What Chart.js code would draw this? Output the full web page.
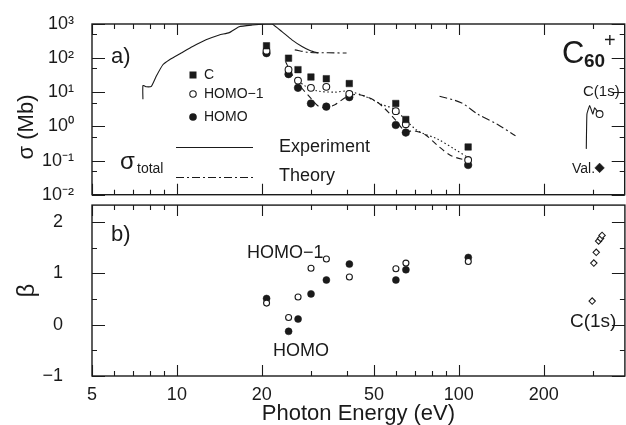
<!DOCTYPE html>
<html>
<head>
<meta charset="utf-8">
<script src="https://cdn.jsdelivr.net/npm/chart.js@4.4.0/dist/chart.umd.min.js"></script>
<style>
  html, body { margin: 0; padding: 0; background: #fff; overflow: hidden; }
  #wrap { position: relative; width: 626px; height: 425px; overflow: hidden; }
  canvas { position: absolute; left: 0; }
  #top { top: 0; }
  #bottom { top: 200px; }
</style>
</head>
<body>
<div id="wrap">
  <canvas id="top" width="630" height="200"></canvas>
  <canvas id="bottom" width="630" height="225"></canvas>
</div>
<script>
const FONT = "'Liberation Sans', Arial, sans-serif";
const INK = '#1a1a1a';

// shared photon energy axis (eV)
const energyMin = 5;
const energyMax = 388;
const energyTicks = [5, 10, 20, 50, 100, 200];
const energyMinorTicks = [6, 7, 8, 9, 30, 40, 60, 70, 80, 90, 300];

const sigmaTicks = [0.01, 0.1, 1, 10, 100, 1000];
const sigmaTickLabels = ['10⁻²', '10⁻¹', '10⁰', '10¹', '10²', '10³'];
const sigmaMinorTicks = [0.05, 0.5, 5, 50, 500];

const betaTicks = [-1, 0, 1, 2];
const betaTickLabels = ['−1', '0', '1', '2'];
const betaMinorTicks = [-0.5, 0.5, 1.5];

// valence partial cross sections (Mb) and beta
const energies = [20.8, 24.9, 26.9, 29.9, 33.9, 40.9, 59.8, 64.9, 108];
const sigmaC = [230, 100, 46, 28, 25, 18, 4.7, 1.6, 0.25];
const sigmaHomo1 = [166, 46, 22, 13.5, 14.4, 9.0, 2.8, 1.16, 0.104];
const sigmaHomo = [140, 34, 13.5, 4.7, 3.8, 7.2, 1.1, 0.66, 0.074];
const betaHomo1 = [0.42, 0.14, 0.54, 1.10, 1.28, 0.93, 1.09, 1.20, 1.23];
const betaHomo = [0.51, -0.13, 0.11, 0.60, 0.87, 1.18, 0.87, 1.07, 1.31];

// total cross section, experiment
const expEnergy = [7.58, 7.58, 7.8, 8.12, 8.45, 8.92, 9.42, 10.36, 11.38, 12.69, 14.14, 15.34, 16.63, 18.53, 20.65, 21.78, 23.6, 25.6, 27.8, 29.8, 31.8];
const expSigma = [6.2, 15.8, 14.5, 15, 29.4, 64, 90, 141, 219, 343, 479, 559, 835, 935, 1000, 1000, 597, 343, 219, 164, 141];

// total cross section, theory (two pieces)
const theoryEnergyLow = [26.2, 29.4, 34.5, 40.0];
const theorySigmaLow = [175, 148, 144, 141];
const theoryEnergyHigh = [85.5, 102, 117, 137, 159];
const theorySigmaHigh = [7.7, 4.95, 2.26, 1.16, 0.53];

// partial theory curves
const homoCalcEnergy = [24.3, 25.6, 27.4, 29.8, 31.8, 33.8, 36.5, 39.5, 42.9, 46.5, 51.8, 59.4, 64.4, 69.8, 75.7, 84.4, 94.0, 107.6];
const homoCalcSigma = [80, 32.9, 15, 6.9, 3.9, 3.54, 4.4, 6.9, 8.6, 7.7, 4.95, 1.62, 0.74, 0.74, 0.59, 0.27, 0.139, 0.099];
const homo1CalcEnergy = [26.3, 28.6, 31.8, 36.5, 40.6, 47.8, 53.3, 59.4, 64.4, 71.7, 84.4, 96.6, 107.6];
const homo1CalcSigma = [26.4, 15, 10.8, 10.1, 10.8, 6.9, 4.4, 3.16, 1.62, 0.74, 0.42, 0.217, 0.125];

// C(1s) region
const c1sExpEnergy = [283.5, 285, 291.5, 299, 303.5, 313];
const c1sExpSigma = [0.22, 2.3, 4.1, 2.3, 3.5, 2.5];
const c1sEnergy = [316];
const c1sSigma = [2.3];
const valEnergy = [316];
const valSigma = [0.061];
const c1sBetaEnergy = [297, 301, 307, 313, 318, 322];
const c1sBeta = [0.46, 1.2, 1.41, 1.63, 1.68, 1.74];

const pts = (xs, ys) => xs.map((x, i) => ({ x, y: ys[i] }));

const lineSet = (xs, ys, dash, tension) => ({
  data: pts(xs, ys),
  showLine: true,
  pointRadius: 0,
  borderColor: INK,
  borderWidth: 1.1,
  borderDash: dash,
  tension: tension,
  fill: false
});

const markSet = (xs, ys, style, radius, filled) => ({
  data: pts(xs, ys),
  showLine: false,
  pointStyle: style,
  pointRadius: radius,
  pointBackgroundColor: filled ? INK : '#fff',
  pointBorderColor: INK,
  pointBorderWidth: filled ? 0.5 : 1.1
});

function framePlugin(yMajor, yMinor) {
  return {
    id: 'frame',
    afterDatasetsDraw(chart) {
      const { ctx, chartArea: a, scales: { x, y } } = chart;
      ctx.save();
      ctx.strokeStyle = INK;
      ctx.lineWidth = 1.4;
      ctx.strokeRect(a.left, a.top, a.right - a.left, a.bottom - a.top);
      ctx.lineWidth = 1.1;
      ctx.beginPath();
      const xt = (list, len) => list.forEach(v => {
        const px = Math.round(x.getPixelForValue(v)) + 0.5;
        ctx.moveTo(px, a.top); ctx.lineTo(px, a.top + len);
        ctx.moveTo(px, a.bottom); ctx.lineTo(px, a.bottom - len);
      });
      const yt = (list, len) => list.forEach(v => {
        const py = Math.round(y.getPixelForValue(v)) + 0.5;
        ctx.moveTo(a.left, py); ctx.lineTo(a.left + len, py);
        ctx.moveTo(a.right, py); ctx.lineTo(a.right - len, py);
      });
      xt(energyTicks, 11);
      xt(energyMinorTicks, 5);
      yt(yMajor, 13);
      yt(yMinor, 5);
      ctx.stroke();
      ctx.restore();
    }
  };
}

function text(ctx, s, x, y, size, opts) {
  opts = opts || {};
  ctx.font = (opts.bold ? 'bold ' : '') + size + 'px ' + FONT;
  ctx.textAlign = opts.align || 'left';
  ctx.textBaseline = opts.baseline || 'middle';
  ctx.fillText(s, x, y);
}

const topLabels = {
  id: 'topLabels',
  afterDraw(chart) {
    const ctx = chart.ctx;
    ctx.save();
    ctx.fillStyle = INK;
    ctx.strokeStyle = INK;

    // axis title sits low in the reference, so it is drawn here
    ctx.save();
    ctx.translate(27, 127);
    ctx.rotate(-Math.PI / 2);
    text(ctx, 'σ (Mb)', 0, 0, 22, { align: 'center' });
    ctx.restore();

    text(ctx, 'a)', 111, 57, 22);

    // symbol key
    ctx.fillRect(189.5, 71.5, 7, 7);
    text(ctx, 'C', 204, 75, 14);
    ctx.lineWidth = 1.1;
    ctx.beginPath(); ctx.arc(193, 94, 3.2, 0, Math.PI * 2); ctx.stroke();
    text(ctx, 'HOMO−1', 204, 94, 14);
    ctx.beginPath(); ctx.arc(193, 117, 3.8, 0, Math.PI * 2); ctx.fill();
    text(ctx, 'HOMO', 204, 117, 14);

    // sigma total key
    text(ctx, 'σ', 120, 162, 24);
    text(ctx, 'total', 137, 169, 14);
    ctx.lineWidth = 1.1;
    ctx.beginPath(); ctx.moveTo(176, 147.5); ctx.lineTo(253, 147.5); ctx.stroke();
    text(ctx, 'Experiment', 279, 147, 18);
    ctx.setLineDash([8, 3, 2, 3]);
    ctx.beginPath(); ctx.moveTo(176, 177.5); ctx.lineTo(253, 177.5); ctx.stroke();
    ctx.setLineDash([]);
    text(ctx, 'Theory', 279, 176, 18);

    // molecule label
    text(ctx, 'C', 562, 63, 31, { baseline: 'alphabetic' });
    text(ctx, '60', 584, 67, 19, { baseline: 'alphabetic', bold: true });
    text(ctx, '+', 604, 47, 20, { baseline: 'alphabetic' });

    text(ctx, 'C(1s)', 583, 92, 15);
    text(ctx, 'Val.', 572, 169, 14);
    ctx.restore();
  }
};

const bottomLabels = {
  id: 'bottomLabels',
  afterDraw(chart) {
    const ctx = chart.ctx;
    ctx.save();
    ctx.fillStyle = INK;
    text(ctx, 'b)', 111, 35, 22);
    text(ctx, 'HOMO−1', 247, 53, 18);
    text(ctx, 'HOMO', 273, 151, 18);
    text(ctx, 'C(1s)', 570, 122, 19);
    ctx.restore();
  }
};

// fixed axis boxes so both panels line up with the same pixel mapping
const fixWidth = s => { s.width = 92; s.paddingTop = 0; s.paddingBottom = 0; };

const energyAxis = (showLabels) => ({
  type: 'logarithmic',
  min: energyMin,
  max: energyMax,
  display: showLabels,
  afterFit: s => { s.height = showLabels ? 49 : 0; s.paddingLeft = 0; s.paddingRight = 0; },
  afterBuildTicks: s => { s.ticks = energyTicks.map(v => ({ value: v })); },
  ticks: {
    callback: v => String(v),
    font: { family: FONT, size: 18 },
    color: INK,
    padding: 8,
    maxRotation: 0,
    autoSkip: false
  },
  grid: { display: false, drawTicks: false },
  border: { display: false },
  title: {
    display: true,
    text: 'Photon Energy (eV)',
    font: { family: FONT, size: 22, lineHeight: 1 },
    color: INK,
    padding: 0
  }
});

new Chart(document.getElementById('top'), {
  type: 'scatter',
  data: {
    datasets: [
      markSet(energies, sigmaC, 'rect', 4.6, true),
      markSet(energies, sigmaHomo1, 'circle', 3.4, false),
      markSet(energies, sigmaHomo, 'circle', 3.8, true),
      markSet(c1sEnergy, c1sSigma, 'circle', 3.4, false),
      markSet(valEnergy, valSigma, 'rectRot', 4.8, true),
      lineSet(expEnergy, expSigma, [], 0.15),
      lineSet(theoryEnergyLow, theorySigmaLow, [8, 3, 2, 3], 0.3),
      lineSet(theoryEnergyHigh, theorySigmaHigh, [8, 3, 2, 3], 0.3),
      lineSet(homoCalcEnergy, homoCalcSigma, [6, 4], 0.3),
      lineSet(homo1CalcEnergy, homo1CalcSigma, [1.5, 2.5], 0.3),
      lineSet(c1sExpEnergy, c1sExpSigma, [], 0.1)
    ]
  },
  options: {
    responsive: false,
    animation: false,
    layout: { padding: { top: 24, right: 2, bottom: 4, left: 0 } },
    plugins: { legend: { display: false }, tooltip: { enabled: false } },
    scales: {
      x: energyAxis(false),
      y: {
        type: 'logarithmic',
        min: 0.01,
        max: 1000,
        afterFit: fixWidth,
        afterBuildTicks: s => { s.ticks = sigmaTicks.map(v => ({ value: v })); },
        ticks: {
          callback: (v, i) => sigmaTickLabels[i],
          font: { family: FONT, size: 18 },
          color: INK,
          padding: 18,
          autoSkip: false
        },
        grid: { display: false, drawTicks: false },
        border: { display: false }
      }
    }
  },
  plugins: [framePlugin(sigmaTicks, sigmaMinorTicks), topLabels]
});

new Chart(document.getElementById('bottom'), {
  type: 'scatter',
  data: {
    datasets: [
      markSet(energies, betaHomo1, 'circle', 3.0, false),
      markSet(energies, betaHomo, 'circle', 3.5, true),
      markSet(c1sBetaEnergy, c1sBeta, 'rectRot', 3.2, false)
    ]
  },
  options: {
    responsive: false,
    animation: false,
    layout: { padding: { top: 3, right: 2, bottom: 0, left: 0 } },
    plugins: { legend: { display: false }, tooltip: { enabled: false } },
    scales: {
      x: energyAxis(true),
      y: {
        type: 'linear',
        min: -1,
        max: 2.33,
        afterFit: fixWidth,
        afterBuildTicks: s => { s.ticks = betaTicks.map(v => ({ value: v })); },
        ticks: {
          callback: (v, i) => betaTickLabels[i],
          font: { family: FONT, size: 18 },
          color: INK,
          padding: 29,
          autoSkip: false
        },
        grid: { display: false, drawTicks: false },
        border: { display: false },
        title: {
          display: true,
          text: 'β',
          font: { family: FONT, size: 24 },
          color: INK,
          padding: { top: 13, bottom: 0 }
        }
      }
    }
  },
  plugins: [framePlugin(betaTicks, betaMinorTicks), bottomLabels]
});
</script>
</body>
</html>
